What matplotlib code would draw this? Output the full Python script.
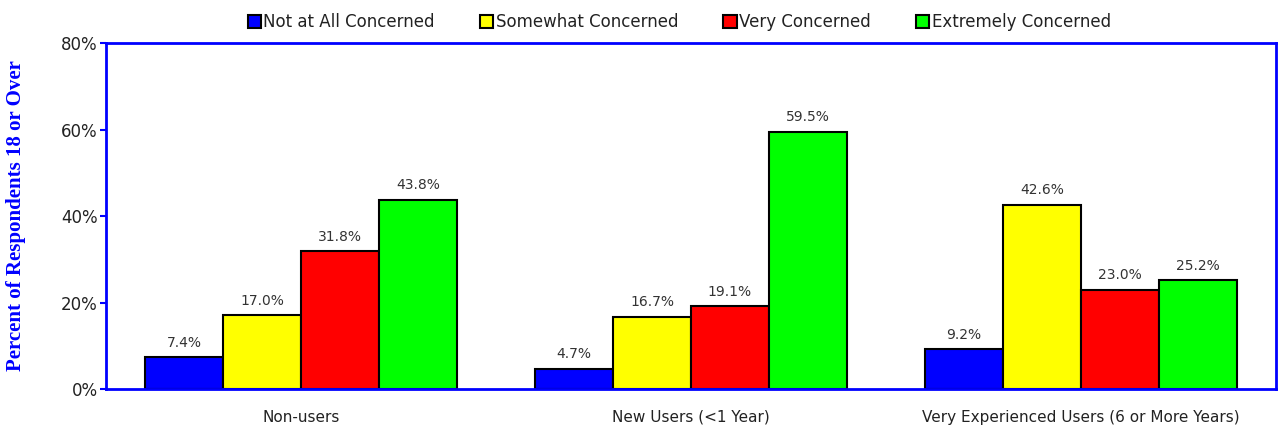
import matplotlib.pyplot as plt
import numpy as np

groups = ["Non-users", "New Users (<1 Year)", "Very Experienced Users (6 or More Years)"]
series = ["Not at All Concerned", "Somewhat Concerned", "Very Concerned", "Extremely Concerned"]
not_at_all = [7.4, 4.7, 9.2]
somewhat = [17.0, 16.7, 42.6]
very = [31.8, 19.1, 23.0]
extremely = [43.8, 59.5, 25.2]
colors = ["#0000ff", "#ffff00", "#ff0000", "#00ff00"]

values = [not_at_all, somewhat, very, extremely]

fig = plt.figure(figsize=(12.83, 4.28), dpi=100)
ax = fig.add_axes([0.0826, 0.0911, 0.9119, 0.8084])

x = np.arange(len(groups))
w = 0.2
for i, (vals, name, c) in enumerate(zip(values, series, colors)):
    pos = x + (i - 1.5) * w
    ax.bar(pos, vals, width=w, color=c, edgecolor="black", linewidth=1.5, label=name, zorder=2)
    for p, v in zip(pos, vals):
        ax.text(p, v + 1.7, f"{v:.1f}%", ha="center", va="bottom", fontsize=10,
                color="#333333", fontfamily="DejaVu Sans")

ax.set_xlim(-0.5, 2.5)
ax.set_ylim(0, 80)
ax.set_yticks([0, 20, 40, 60, 80])
ax.set_yticklabels([f"{t}%" for t in [0, 20, 40, 60, 80]], fontsize=12, color="#222222")
ax.set_xticks(x)
ax.set_xticklabels(groups, fontsize=11, color="#222222")
ax.tick_params(axis="x", length=0, pad=15)
ax.tick_params(axis="y", length=4, color="#0000ff", width=1.5, pad=2)
for s in ax.spines.values():
    s.set_color("#0000ff")
    s.set_linewidth(2)

ax.set_ylabel("Percent of Respondents 18 or Over", fontfamily="Liberation Serif",
              fontweight="bold", color="#0000ff", fontsize=15)
ax.yaxis.set_label_coords(-0.068, 0.5)

leg = ax.legend(loc="lower center", bbox_to_anchor=(0.49, 1.0), ncol=4, frameon=False,
                fontsize=12, handlelength=0.8, handleheight=0.8, handletextpad=0.15,
                columnspacing=2.7, borderaxespad=0.3)
for t in leg.get_texts():
    t.set_color("#222222")

fig.savefig("out.png", dpi=100)
